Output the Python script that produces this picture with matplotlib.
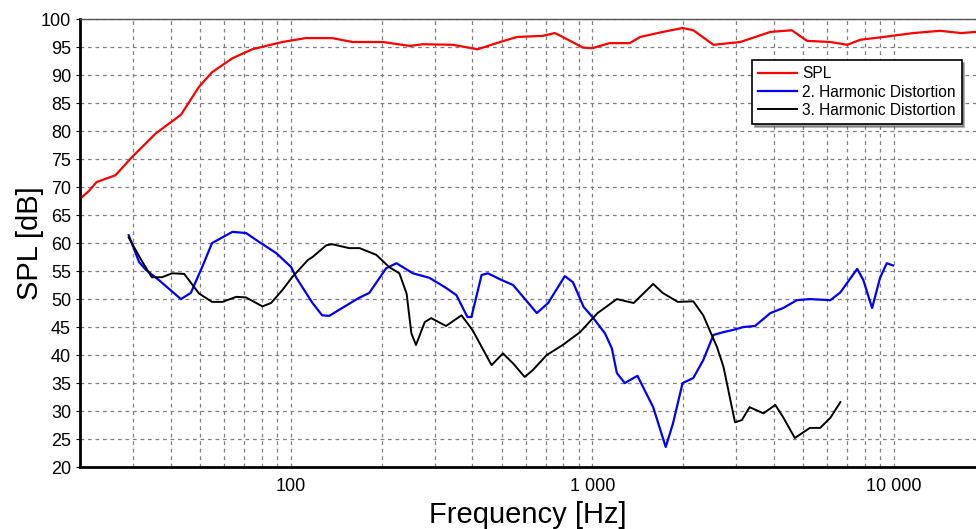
import matplotlib.pyplot as plt
from matplotlib.ticker import FixedLocator, FuncFormatter, LogLocator, NullFormatter

plt.rcParams['font.family'] = ['Liberation Sans', 'DejaVu Sans']

# SPL curve
spl_f = [20.3, 21.4, 22.7, 26.2, 29.8, 35.7, 43.2, 49.6, 54.8, 64, 74.5, 93.7, 112, 137, 160,
         202, 248, 274, 345, 416, 494, 562, 685, 750, 797, 930, 1000, 1140, 1330, 1440, 1710,
         1990, 2160, 2520, 3090, 3890, 4580, 5150, 6150, 7000, 7730, 9230, 11600, 14200, 16700, 18700]
spl_db = [68.2, 69.3, 70.9, 72.1, 75.4, 79.6, 82.9, 87.9, 90.5, 93, 94.6, 95.9, 96.6, 96.6, 95.9,
          95.9, 95.2, 95.5, 95.4, 94.6, 95.9, 96.8, 97, 97.5, 96.8, 94.9, 94.8, 95.7, 95.7, 96.8, 97.7,
          98.4, 98, 95.4, 95.9, 97.7, 98, 96.1, 95.9, 95.4, 96.3, 96.8, 97.5, 97.9, 97.5, 97.7]

# 2. harmonic distortion
hd2_f = [29.0, 31.4, 33.1, 36.5, 43.2, 46.6, 50.8, 54.8, 64, 71, 78.5, 89.5, 100.3, 104.3, 118,
         127, 134, 168, 182, 207, 224, 254, 288, 327, 354, 385, 397, 429, 450, 500, 546, 654, 713,
         810, 862, 935, 1000, 1100, 1160, 1205, 1280, 1410, 1590, 1750, 1850, 1990, 2160, 2330,
         2520, 2720, 2930, 3160, 3460, 3890, 4290, 4760, 5260, 6150, 6640, 7550, 7910, 8460, 8990,
         9460, 9930]
hd2_db = [61.4, 56.6, 55.2, 53.4, 50, 51.1, 55.7, 60, 62, 61.8, 60.2, 58.2, 55.7, 53.8, 49.3,
          47.1, 47, 50.2, 51.1, 55.5, 56.4, 54.6, 53.8, 52, 50.7, 46.8, 46.8, 54.3, 54.6, 53.4, 52.5,
          47.5, 49.3, 54.1, 53, 48.6, 46.8, 43.9, 41.2, 36.8, 35, 36.3, 30.7, 23.6, 27.8, 35, 35.9,
          39.1, 43.6, 44.1, 44.5, 45, 45.2, 47.5, 48.4, 49.8, 50, 49.8, 51.2, 55.4, 53.4, 48.4, 53.8,
          56.4, 56]

# 3. harmonic distortion
hd3_f = [29.0, 31.9, 34.6, 37.4, 40.4, 44.3, 49.6, 54.8, 59.3, 65.9, 71, 80.5, 86, 93.7, 101,
         114, 118, 131, 137, 156, 169, 192, 212, 229, 242, 251, 260, 278, 292, 327, 368, 400, 463,
         505, 546, 596, 634, 705, 797, 910, 1040, 1205, 1370, 1590, 1710, 1920, 2160, 2330, 2590,
         2720, 2970, 3130, 3320, 3690, 4040, 4290, 4690, 5260, 5690, 6150, 6640]
hd3_db = [61.0, 57, 53.9, 53.9, 54.6, 54.5, 51, 49.5, 49.5, 50.4, 50.3, 48.7, 49.3, 51.6, 53.9,
          57, 57.5, 59.6, 59.8, 59.1, 59.1, 57.9, 55.7, 54.6, 51, 43.9, 41.8, 45.9, 46.6, 45.2, 47.1,
          44.5, 38.2, 40.3, 38.5, 36.1, 37.3, 40, 41.8, 44.1, 47.5, 50, 49.3, 52.7, 51.1, 49.5, 49.6,
          47.1, 41.4, 37.9, 28, 28.4, 30.7, 29.6, 31.1, 28.9, 25.2, 27, 27, 28.8, 31.6]

fig = plt.figure(figsize=(9.76, 5.29), dpi=100)
ax = fig.add_axes([0.082, 0.117, 0.918, 0.847])

ax.plot(spl_f, spl_db, color='#ff0000', lw=1.6, label='SPL', solid_joinstyle='round')
ax.plot(hd2_f, hd2_db, color='#0000ff', lw=1.6, label='2. Harmonic Distortion', solid_joinstyle='round')
ax.plot(hd3_f, hd3_db, color='#000000', lw=1.4, label='3. Harmonic Distortion', solid_joinstyle='round')

ax.set_xscale('log')
ax.set_xlim(20, 18700)
ax.set_ylim(20, 100)
ax.yaxis.set_major_locator(FixedLocator(range(20, 101, 5)))
ax.xaxis.set_major_locator(FixedLocator([100, 1000, 10000]))
ax.xaxis.set_minor_locator(LogLocator(base=10, subs=range(2, 10)))
ax.xaxis.set_minor_formatter(NullFormatter())
ax.xaxis.set_major_formatter(FuncFormatter(lambda v, p: f'{int(v):,}'.replace(',', ' ')))

ax.grid(True, which='both', color='#808080', ls=(0, (3, 3)), lw=0.9)
ax.tick_params(axis='both', which='both', labelsize=13, length=3, colors='#000000')
ax.tick_params(axis='x', which='both', length=0, pad=8)

for s in ['left', 'bottom']:
    ax.spines[s].set_linewidth(2)
ax.spines['top'].set_color('#555555')
ax.spines['top'].set_linewidth(1)
ax.spines['right'].set_visible(False)

ax.set_xlabel('Frequency [Hz]', fontsize=21, labelpad=4)
ax.set_ylabel('SPL [dB]', fontsize=21, labelpad=-2)

leg = ax.legend(loc='upper right', bbox_to_anchor=(0.984, 0.908), fontsize=11.2, fancybox=False,
                framealpha=1, edgecolor='black', shadow=True, handlelength=2.5,
                borderpad=0.4, labelspacing=0.2, handletextpad=0.3, borderaxespad=0)
leg.get_frame().set_linewidth(1.2)

fig.savefig('out.png', dpi=100)
